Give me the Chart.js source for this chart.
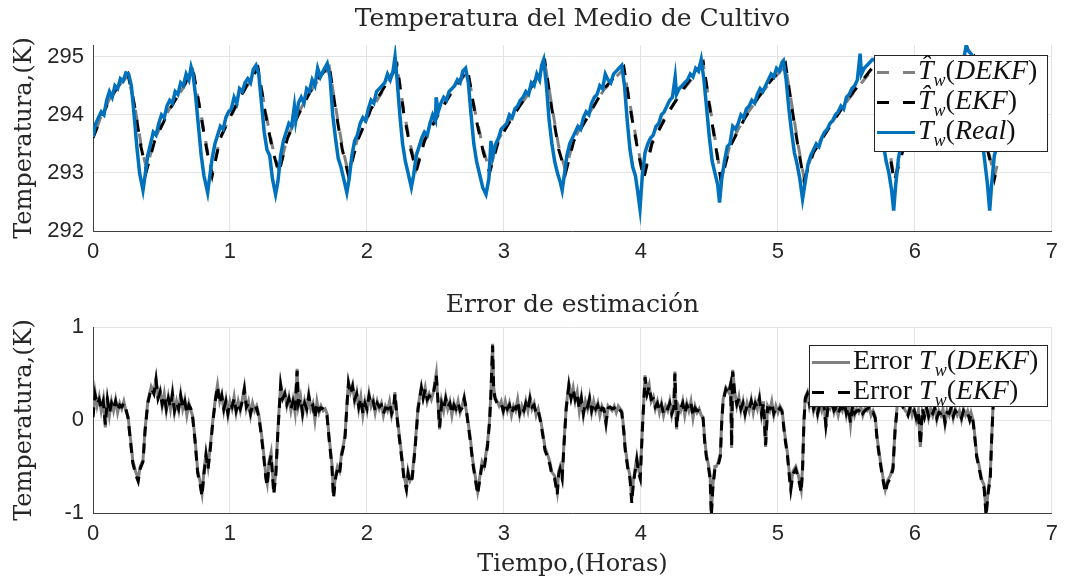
<!DOCTYPE html>
<html lang="es">
<head>
  <meta charset="UTF-8">
  <title>Temperatura del Medio de Cultivo</title>
  <script src="https://cdn.jsdelivr.net/npm/chart.js"></script>
  <style>
    body {
      margin: 0;
      background: #fff;
      width: 1066px;
      height: 584px;
      position: relative;
      overflow: hidden;
    }
    .panel {
      position: absolute;
      left: 0;
      width: 1066px;
    }
    #topPanel { top: 0; height: 262px; }
    #botPanel { top: 280px; height: 304px; }
    .legend {
      position: absolute;
      background: #fff;
      border: 1px solid #262626;
      font-family: "Liberation Serif", serif;
      font-size: 28px;
      color: #111;
      padding: 1px 0 0 2px;
      box-sizing: border-box;
    }
    .legend .row {
      height: 30px;
      display: flex;
      align-items: center;
      white-space: nowrap;
    }
    .sample {
      display: inline-block;
      width: 38px;
      height: 3px;
      margin-right: 3px;
      flex: none;
    }
    .dash-gray { background: repeating-linear-gradient(to right, #808080 0 12px, transparent 12px 26px); }
    .dash-black { background: repeating-linear-gradient(to right, #000 0 12px, transparent 12px 26px); }
    .solid-blue { background: #0072bd; }
    .solid-gray { background: #808080; }
    .legend i { font-style: italic; }
    .legend sub { font-size: 18px; font-style: italic; position: relative; top: 1px; }
  </style>
</head>
<body>
  <div class="panel" id="topPanel"><canvas id="tempChart"></canvas></div>
  <div class="panel" id="botPanel"><canvas id="errChart"></canvas></div>

  <div class="legend" style="left:874px; top:55px; width:174px; height:97px;">
    <div class="row"><span class="sample dash-gray"></span><span><i>T&#770;</i><sub>w</sub>(<i>DEKF</i>)</span></div>
    <div class="row"><span class="sample dash-black"></span><span><i>T&#770;</i><sub>w</sub>(<i>EKF</i>)</span></div>
    <div class="row"><span class="sample solid-blue"></span><span><i>T</i><sub>w</sub>(<i>Real</i>)</span></div>
  </div>
  <div class="legend" style="left:809px; top:345px; width:239px; height:62px;">
    <div class="row"><span class="sample solid-gray"></span><span>Error <i>T</i><sub>w</sub>(<i>DEKF</i>)</span></div>
    <div class="row"><span class="sample dash-black"></span><span>Error <i>T</i><sub>w</sub>(<i>EKF</i>)</span></div>
  </div>

  <script>
    // ---- measured temperature (hours, K) ----
    const timeReal = [
      0, 0.02, 0.04, 0.06, 0.08, 0.10, 0.12, 0.14, 0.16, 0.18, 0.20, 0.22, 0.24, 0.26, 0.28, 0.30, 0.32, 0.34, 0.365,
      0.38, 0.40, 0.42, 0.44, 0.46, 0.48, 0.50, 0.52, 0.54, 0.56, 0.58, 0.60, 0.62, 0.64, 0.66, 0.68, 0.70, 0.716, 0.73, 0.75, 0.77, 0.79, 0.81, 0.837,
      0.85, 0.87, 0.89, 0.91, 0.93, 0.95, 0.97, 0.99, 1.01, 1.03, 1.05, 1.07, 1.09, 1.11, 1.13, 1.15, 1.17, 1.19, 1.21, 1.23, 1.25, 1.27, 1.29, 1.31, 1.333,
      1.35, 1.37, 1.39, 1.41, 1.43, 1.45, 1.47, 1.48, 1.50, 1.52, 1.54, 1.56, 1.58, 1.60, 1.62, 1.64, 1.66, 1.68, 1.71, 1.73, 1.75, 1.77, 1.79, 1.81, 1.83, 1.853,
      1.87, 1.89, 1.91, 1.93, 1.95, 1.97, 1.99, 2.01, 2.03, 2.05, 2.07, 2.09, 2.11, 2.13, 2.15, 2.17, 2.19, 2.205, 2.22, 2.24, 2.26, 2.28, 2.30, 2.324,
      2.34, 2.36, 2.38, 2.40, 2.42, 2.44, 2.46, 2.48, 2.50, 2.505, 2.52, 2.54, 2.56, 2.58, 2.60, 2.62, 2.64, 2.66, 2.68, 2.70, 2.72, 2.74, 2.76, 2.78, 2.80, 2.82, 2.845, 2.869,
      2.89, 2.905, 2.92, 2.94, 2.96, 2.98, 3.00, 3.02, 3.04, 3.06, 3.08, 3.10, 3.12, 3.14, 3.16, 3.18, 3.20, 3.22, 3.24, 3.26, 3.275, 3.29, 3.31, 3.33, 3.35, 3.37, 3.39, 3.41, 3.425,
      3.44, 3.46, 3.48, 3.50, 3.52, 3.54, 3.56, 3.58, 3.60, 3.62, 3.64, 3.66, 3.68, 3.70, 3.72, 3.74, 3.76, 3.78, 3.80, 3.82, 3.84, 3.86, 3.88, 3.90, 3.92, 3.94, 3.96, 3.975, 3.993,
      4.01, 4.03, 4.05, 4.07, 4.09, 4.11, 4.13, 4.15, 4.17, 4.19, 4.21, 4.23, 4.25, 4.26, 4.28, 4.30, 4.32, 4.34, 4.36, 4.38, 4.40, 4.42, 4.44, 4.46, 4.48, 4.50, 4.52, 4.54, 4.56, 4.574,
      4.59, 4.61, 4.63, 4.65, 4.67, 4.69, 4.71, 4.73, 4.75, 4.77, 4.79, 4.81, 4.83, 4.85, 4.87, 4.89, 4.91, 4.93, 4.95, 4.97, 4.99, 5.01, 5.03, 5.04, 5.06, 5.08, 5.10, 5.12, 5.14, 5.16, 5.18,
      5.20, 5.22, 5.24, 5.26, 5.28, 5.30, 5.32, 5.34, 5.36, 5.38, 5.40, 5.42, 5.44, 5.46, 5.48, 5.50, 5.52, 5.54, 5.56, 5.58, 5.60, 5.61, 5.63, 5.65, 5.67, 5.69, 5.71, 5.73, 5.75, 5.77, 5.79, 5.81, 5.83, 5.845,
      5.86, 5.88, 5.90, 5.92, 5.94, 5.96, 5.98, 6.00, 6.02, 6.04, 6.06, 6.08, 6.10, 6.12, 6.14, 6.16, 6.18, 6.20, 6.22, 6.24, 6.26, 6.28, 6.30, 6.32, 6.34, 6.36, 6.375, 6.39, 6.41, 6.43, 6.45, 6.47, 6.49, 6.51, 6.53, 6.546, 6.56, 6.58, 6.60
    ];
    const tempReal = [
      293.62, 293.85, 293.95, 294.05, 294.0, 294.25, 294.4, 294.3, 294.5, 294.45, 294.62, 294.58, 294.72, 294.7, 294.5, 294.0, 293.45, 293.0, 292.7,
      292.95, 293.3, 293.5, 293.7, 293.65, 293.85, 294.0, 293.95, 294.15, 294.25, 294.2, 294.4, 294.35, 294.55, 294.5, 294.7, 294.6, 294.82, 294.7, 294.3, 293.8, 293.3, 292.95, 292.66,
      292.9, 293.25, 293.5, 293.65, 293.8, 293.75, 293.95, 294.05, 294.1, 294.3, 294.2, 294.45, 294.4, 294.55, 294.62, 294.55, 294.78, 294.85, 294.7, 294.2, 293.7, 293.4, 293.3, 292.9, 292.63,
      292.85, 293.3, 293.55, 293.7, 293.85, 293.8, 294.15, 293.9, 294.2, 294.3, 294.2, 294.45, 294.4, 294.6, 294.5, 294.8, 294.65, 294.75, 294.88, 294.65, 294.0, 293.6, 293.25, 293.1, 292.9, 292.66,
      292.9, 293.3, 293.55, 293.65, 293.85, 293.95, 293.9, 294.1, 294.25, 294.2, 294.4, 294.45, 294.5, 294.55, 294.7, 294.6, 294.75, 295.0, 294.6, 294.0, 293.5, 293.2, 293.0, 292.75,
      292.95, 293.3, 293.45, 293.6, 293.7, 293.65, 293.85, 294.0, 293.9, 294.3, 294.05, 294.2, 294.3, 294.25, 294.4, 294.45, 294.5, 294.6, 294.55, 294.75, 294.8, 294.55, 294.0, 293.5, 293.2, 293.0, 292.75, 292.63,
      292.9, 293.55, 293.3, 293.5, 293.6, 293.75, 293.8, 293.85, 294.0, 293.95, 294.1, 294.15, 294.25, 294.3, 294.4, 294.35, 294.55, 294.5, 294.7, 294.6, 294.85, 294.95, 294.5, 293.9, 293.5, 293.2, 293.0, 292.85, 292.7,
      292.95, 293.3, 293.5, 293.6, 293.7, 293.8, 293.75, 293.95, 294.05, 294.0, 294.2, 294.3, 294.35, 294.5, 294.45, 294.7, 294.6, 294.55, 294.7, 294.75, 294.8, 294.85, 294.5, 293.9, 293.4, 293.1, 292.95, 292.7, 292.38,
      292.95, 293.35, 293.5, 293.6, 293.65, 293.8, 293.85, 294.0, 294.05, 294.15, 294.25, 294.3, 294.65, 294.35, 294.45, 294.5, 294.55, 294.6, 294.7, 294.65, 294.8, 294.75, 294.95, 294.6, 294.1, 293.6, 293.2, 293.0, 292.8, 292.49,
      292.9, 293.2, 293.45, 293.5, 293.8, 293.75, 293.85, 294.0, 293.95, 294.1, 294.15, 294.25, 294.2, 294.35, 294.45, 294.4, 294.5, 294.6, 294.7, 294.65, 294.8, 294.75, 294.9, 294.93, 294.6, 294.1, 293.7, 293.35, 293.15, 292.9, 292.55,
      292.85, 293.15, 293.3, 293.4, 293.5, 293.45, 293.6, 293.7, 293.75, 293.85, 293.9, 294.0, 294.05, 294.15, 294.1, 294.3, 294.35, 294.45, 294.5, 294.6, 295.05, 294.7, 294.8, 294.85, 294.9, 294.95, 294.95, 294.6, 294.0, 293.5, 293.2, 293.0, 292.7, 292.35,
      292.8, 293.25, 293.5, 293.6, 293.7, 293.8, 293.85, 293.95, 294.0, 293.85, 294.1, 294.2, 294.25, 294.3, 294.4, 294.45, 294.5, 294.55, 294.6, 294.7, 294.75, 294.8, 294.85, 294.9, 294.95, 295.0, 295.2, 295.1, 295.05, 294.95, 294.5, 294.0, 293.6, 293.2, 292.8, 292.35, 292.8, 293.3, 293.45
    ];

    // ---- filter estimates (hours, K) ----
    const timeEst = [
      0, 0.05, 0.12, 0.20, 0.255, 0.30, 0.35, 0.39,
      0.45, 0.55, 0.65, 0.73, 0.78, 0.83, 0.87,
      0.93, 1.03, 1.12, 1.205, 1.26, 1.31, 1.357,
      1.42, 1.52, 1.62, 1.725, 1.77, 1.82, 1.865,
      1.93, 2.03, 2.12, 2.22, 2.27, 2.32, 2.36,
      2.42, 2.52, 2.62, 2.735, 2.79, 2.85, 2.895,
      2.96, 3.06, 3.17, 3.30, 3.35, 3.40, 3.45,
      3.51, 3.62, 3.73, 3.875, 3.93, 3.98, 4.02,
      4.08, 4.19, 4.31, 4.455, 4.51, 4.55, 4.585,
      4.65, 4.76, 4.90, 5.055, 5.11, 5.15, 5.19,
      5.26, 5.38, 5.52, 5.72, 5.77, 5.81, 5.85,
      5.92, 6.05, 6.22, 6.43, 6.48, 6.53, 6.58,
      6.60
    ];
    const tempDEKF = [
      293.58, 293.92, 294.27, 294.53, 294.67, 294.22, 293.5, 293.07,
      293.58, 294.07, 294.43, 294.75, 294.12, 293.45, 292.99,
      293.62, 294.08, 294.48, 294.77, 294.05, 293.45, 293.04,
      293.62, 294.12, 294.52, 294.82, 294.15, 293.45, 292.99,
      293.58, 294.08, 294.43, 294.82, 294.05, 293.45, 293.07,
      293.58, 294.02, 294.38, 294.75, 294.05, 293.4, 293.04,
      293.58, 293.97, 294.33, 294.87, 294.15, 293.45, 293.04,
      293.58, 294.02, 294.43, 294.79, 294.05, 293.4, 292.95,
      293.53, 294.02, 294.43, 294.87, 294.05, 293.45, 292.9,
      293.48, 293.97, 294.43, 294.85, 294.05, 293.45, 292.92,
      293.38, 293.82, 294.28, 294.87, 294.1, 293.45, 292.9,
      293.48, 293.97, 294.48, 294.97, 294.15, 293.45, 292.94,
      293.12
    ];
    const tempEKF = [
      293.6, 293.9, 294.25, 294.55, 294.7, 294.2, 293.45, 293.03,
      293.55, 294.05, 294.45, 294.78, 294.1, 293.4, 292.95,
      293.6, 294.1, 294.5, 294.8, 294.0, 293.4, 293.0,
      293.6, 294.1, 294.55, 294.85, 294.1, 293.4, 292.95,
      293.55, 294.1, 294.45, 294.85, 294.0, 293.4, 293.03,
      293.55, 294.0, 294.4, 294.78, 294.0, 293.35, 293.0,
      293.55, 293.95, 294.35, 294.9, 294.1, 293.4, 293.0,
      293.55, 294.0, 294.45, 294.82, 294.0, 293.35, 292.9,
      293.5, 294.0, 294.45, 294.9, 294.0, 293.4, 292.85,
      293.45, 293.95, 294.45, 294.88, 294.0, 293.4, 292.87,
      293.35, 293.8, 294.3, 294.9, 294.05, 293.4, 292.85,
      293.45, 293.95, 294.5, 295.0, 294.1, 293.4, 292.89,
      293.1
    ];

    // ---- estimation error (hours, K) ----
    const timeErr = [
      0, 0.015, 0.03, 0.045, 0.06, 0.075, 0.09, 0.105, 0.12, 0.135, 0.15, 0.165, 0.18, 0.195, 0.21, 0.225, 0.24, 0.256,
      0.27, 0.29, 0.31, 0.33, 0.345, 0.365, 0.38, 0.40, 0.425, 0.445, 0.46, 0.475,
      0.49, 0.505, 0.52, 0.535, 0.55, 0.565, 0.58, 0.595, 0.61, 0.625, 0.64, 0.655, 0.67, 0.685, 0.70, 0.715, 0.728,
      0.745, 0.764, 0.78, 0.796, 0.81, 0.825, 0.84, 0.855, 0.875, 0.895, 0.909, 0.925,
      0.94, 0.955, 0.97, 0.985, 1.0, 1.015, 1.03, 1.045, 1.06, 1.075, 1.09, 1.105, 1.12, 1.135, 1.15, 1.165, 1.18, 1.195, 1.212,
      1.23, 1.248, 1.262, 1.272, 1.285, 1.30, 1.32, 1.335, 1.35, 1.37, 1.385,
      1.40, 1.415, 1.43, 1.445, 1.46, 1.475, 1.49, 1.50, 1.515, 1.53, 1.545, 1.56, 1.575, 1.59, 1.605, 1.62, 1.635, 1.65, 1.665, 1.68, 1.695, 1.708,
      1.725, 1.744, 1.756, 1.77, 1.785, 1.80, 1.815, 1.83, 1.84, 1.855, 1.865, 1.88,
      1.895, 1.91, 1.925, 1.94, 1.955, 1.97, 1.985, 2.0, 2.015, 2.03, 2.045, 2.06, 2.075, 2.09, 2.105, 2.12, 2.135, 2.15, 2.165, 2.18, 2.195, 2.204, 2.22,
      2.235, 2.252, 2.27, 2.288, 2.30, 2.315, 2.33, 2.35, 2.373, 2.397, 2.41,
      2.425, 2.44, 2.455, 2.47, 2.485, 2.506, 2.52, 2.53, 2.545, 2.56, 2.575, 2.59, 2.605, 2.62, 2.635, 2.65, 2.665, 2.68, 2.695, 2.71, 2.725, 2.736,
      2.755, 2.772, 2.79, 2.808, 2.825, 2.84, 2.855, 2.87, 2.88, 2.895, 2.905, 2.917, 2.925, 2.935,
      2.95, 2.965, 2.98, 2.995, 3.01, 3.025, 3.04, 3.055, 3.07, 3.085, 3.10, 3.115, 3.13, 3.145, 3.16, 3.175, 3.19, 3.205, 3.22, 3.235, 3.25, 3.268,
      3.285, 3.30, 3.316, 3.335, 3.35, 3.37, 3.389, 3.40, 3.41, 3.425, 3.44, 3.455, 3.474, 3.49,
      3.505, 3.52, 3.535, 3.55, 3.565, 3.58, 3.595, 3.61, 3.625, 3.64, 3.655, 3.67, 3.685, 3.70, 3.715, 3.73, 3.745, 3.76, 3.775, 3.79, 3.805, 3.82, 3.835, 3.86,
      3.875, 3.885, 3.905, 3.92, 3.933, 3.945, 3.96, 3.97, 3.985, 3.995, 4.01, 4.03, 4.045,
      4.06, 4.075, 4.09, 4.105, 4.12, 4.135, 4.15, 4.165, 4.18, 4.195, 4.21, 4.225, 4.24, 4.248, 4.26, 4.275, 4.29, 4.305, 4.32, 4.335, 4.35, 4.365, 4.38, 4.395, 4.41, 4.425, 4.44, 4.454,
      4.465, 4.477, 4.495, 4.505, 4.514, 4.525, 4.54, 4.55, 4.565, 4.58, 4.59, 4.60, 4.62, 4.64, 4.655, 4.662, 4.67, 4.685,
      4.70, 4.715, 4.73, 4.745, 4.76, 4.775, 4.79, 4.805, 4.82, 4.835, 4.85, 4.865, 4.88, 4.895, 4.91, 4.925, 4.94, 4.955, 4.97, 4.985, 5.0, 5.015, 5.03,
      5.05, 5.07, 5.085, 5.094, 5.11, 5.13, 5.15, 5.17, 5.18, 5.19, 5.20, 5.215,
      5.23, 5.245, 5.26, 5.275, 5.29, 5.305, 5.32, 5.335, 5.35, 5.365, 5.38, 5.395, 5.41, 5.425, 5.44, 5.455, 5.47, 5.485, 5.50, 5.515, 5.53, 5.545, 5.56, 5.575, 5.59, 5.605, 5.62, 5.635, 5.65, 5.665, 5.68, 5.695, 5.71,
      5.725, 5.747, 5.765, 5.784, 5.80, 5.82, 5.84, 5.855, 5.87, 5.885, 5.90,
      5.915, 5.93, 5.95, 5.965, 5.98, 5.995, 6.01, 6.025, 6.04, 6.055, 6.07, 6.085, 6.10, 6.115, 6.13, 6.145, 6.16, 6.175, 6.19, 6.205, 6.22, 6.235, 6.25, 6.265, 6.28, 6.295, 6.31, 6.325, 6.34, 6.355, 6.37, 6.385, 6.40, 6.41, 6.425,
      6.44, 6.45, 6.47, 6.49, 6.505, 6.52, 6.535, 6.55, 6.56, 6.57, 6.575
    ];
    const errDEKF = [
      0.05, 0.3, 0.15, 0.25, 0.1, 0.22, -0.08, 0.25, 0.05, 0.2, 0.1, 0.22, 0.08, 0.18, 0.12, 0.2, 0.1, 0.04,
      -0.15, -0.43, -0.55, -0.63, -0.5, -0.43, -0.1, 0.2, 0.36, 0.3, 0.45, 0.25,
      0.32, 0.15, 0.28, 0.1, 0.25, 0.12, 0.3, 0.08, 0.2, 0.1, 0.28, 0.12, 0.22, 0.05, 0.18, 0.1, 0.04,
      -0.2, -0.54, -0.65, -0.79, -0.55, -0.35, -0.5, -0.3, 0.0, 0.25, 0.38, 0.2,
      0.28, 0.1, 0.22, 0.05, 0.2, 0.12, 0.25, 0.08, 0.2, 0.1, 0.22, 0.35, 0.12, 0.2, 0.05, 0.18, 0.1, 0.15, 0.04,
      -0.15, -0.39, -0.6, -0.68, -0.45, -0.35, -0.77, -0.55, -0.1, 0.39, 0.25,
      0.3, 0.15, 0.25, 0.1, 0.22, 0.08, 0.55, 0.15, 0.25, 0.05, 0.2, 0.1, 0.28, 0.12, 0.18, 0.0, 0.2, 0.08, 0.15, 0.1, 0.12, 0.07,
      -0.2, -0.47, -0.81, -0.6, -0.5, -0.55, -0.35, -0.25, -0.16, 0.2, 0.41, 0.3,
      0.38, 0.2, 0.3, 0.12, 0.25, 0.05, 0.2, 0.1, 0.28, 0.15, 0.22, 0.08, 0.2, 0.12, 0.18, 0.05, 0.15, 0.1, 0.2, 0.05, 0.15, 0.3, 0.04,
      -0.15, -0.36, -0.6, -0.72, -0.55, -0.65, -0.6, -0.3, 0.14, 0.36, 0.25,
      0.35, 0.2, 0.28, 0.22, 0.3, 0.5, 0.15, -0.1, 0.2, 0.1, 0.25, 0.12, 0.2, 0.05, 0.18, 0.1, 0.2, 0.08, 0.15, 0.25, 0.1, 0.0,
      -0.2, -0.43, -0.6, -0.77, -0.6, -0.45, -0.5, -0.35, -0.25, 0.0, 0.3, 0.82, 0.35, 0.25,
      0.2, 0.15, 0.2, 0.08, 0.2, 0.1, 0.18, 0.05, 0.15, 0.1, 0.22, 0.05, 0.15, 0.08, 0.2, 0.1, 0.25, 0.12, 0.18, 0.05, 0.12, 0.0,
      -0.15, -0.3, -0.36, -0.45, -0.56, -0.6, -0.77, -0.55, -0.5, -0.6, -0.2, 0.15, 0.39, 0.25,
      0.35, 0.2, 0.3, 0.1, 0.25, 0.05, 0.2, 0.12, 0.25, 0.08, 0.2, 0.1, 0.18, 0.05, 0.15, 0.1, -0.05, 0.15, 0.12, 0.1, 0.15, 0.08, 0.15, 0.1,
      -0.1, -0.29, -0.5, -0.6, -0.86, -0.65, -0.5, -0.4, -0.55, -0.6, -0.1, 0.48, 0.3,
      0.38, 0.2, 0.25, 0.12, 0.2, 0.08, 0.18, 0.05, 0.15, 0.1, 0.2, 0.05, 0.15, 0.52, -0.1, 0.15, 0.1, 0.2, 0.05, 0.18, 0.1, 0.2, 0.02, 0.15, 0.08, 0.12, 0.05, 0.03,
      -0.2, -0.36, -0.5, -0.6, -1.0, -0.7, -0.5, -0.5, -0.45, -0.36, 0.0, 0.22, 0.35, 0.3, 0.4, -0.3, 0.54, 0.3,
      0.15, 0.25, 0.1, 0.2, 0.05, 0.18, 0.1, 0.22, 0.08, 0.2, 0.12, 0.25, 0.05, 0.2, -0.29, 0.15, 0.1, 0.2, 0.05, 0.15, 0.08, 0.15, 0.11,
      -0.15, -0.36, -0.6, -0.72, -0.55, -0.5, -0.6, -0.75, -0.5, 0.0, 0.25, 0.3,
      0.15, 0.25, 0.1, 0.2, 0.05, 0.18, 0.1, 0.2, -0.08, 0.15, 0.12, 0.2, 0.08, 0.15, 0.05, 0.15, 0.1, 0.2, 0.05, 0.15, -0.05, 0.18, 0.05, 0.12, 0.08, 0.15, 0.05, 0.12, 0.1, 0.15, 0.05, 0.1, 0.04,
      -0.2, -0.43, -0.6, -0.75, -0.65, -0.6, -0.5, -0.1, 0.14, 0.3, 0.2,
      0.15, 0.1, 0.07, 0.15, 0.05, 0.12, 0.0, 0.1, -0.29, 0.1, 0.05, 0.15, 0.02, 0.12, 0.05, 0.15, 0.0, 0.1, 0.05, 0.12, -0.05, 0.1, 0.05, 0.15, 0.02, 0.12, 0.05, 0.1, 0.0, 0.12, 0.05, 0.1, 0.02, 0.08, 0.0,
      -0.2, -0.36, -0.5, -0.65, -0.7, -1.0, -0.75, -0.6, -0.2, 0.14, 0.2
    ];
    const errEKF = [
      0.03, 0.27, 0.17, 0.22, 0.12, 0.2, -0.05, 0.22, 0.07, 0.18, 0.12, 0.2, 0.1, 0.16, 0.14, 0.18, 0.12, 0.02,
      -0.18, -0.46, -0.58, -0.66, -0.52, -0.45, -0.12, 0.18, 0.34, 0.28, 0.43, 0.23,
      0.3, 0.17, 0.26, 0.12, 0.23, 0.14, 0.28, 0.1, 0.18, 0.12, 0.26, 0.14, 0.2, 0.07, 0.16, 0.12, 0.02,
      -0.23, -0.57, -0.68, -0.82, -0.58, -0.38, -0.53, -0.33, -0.02, 0.23, 0.36, 0.18,
      0.26, 0.12, 0.2, 0.07, 0.18, 0.14, 0.23, 0.1, 0.18, 0.12, 0.2, 0.33, 0.14, 0.18, 0.07, 0.16, 0.12, 0.13, 0.02,
      -0.18, -0.42, -0.63, -0.71, -0.48, -0.38, -0.8, -0.58, -0.12, 0.37, 0.23,
      0.28, 0.17, 0.23, 0.12, 0.2, 0.1, 0.53, 0.17, 0.23, 0.07, 0.18, 0.12, 0.26, 0.14, 0.16, 0.02, 0.18, 0.1, 0.13, 0.12, 0.1, 0.05,
      -0.23, -0.5, -0.84, -0.63, -0.53, -0.58, -0.38, -0.28, -0.18, 0.18, 0.39, 0.28,
      0.36, 0.22, 0.28, 0.14, 0.23, 0.07, 0.18, 0.12, 0.26, 0.17, 0.2, 0.1, 0.18, 0.14, 0.16, 0.07, 0.13, 0.12, 0.18, 0.07, 0.13, 0.28, 0.02,
      -0.18, -0.39, -0.63, -0.75, -0.58, -0.68, -0.63, -0.33, 0.12, 0.34, 0.23,
      0.33, 0.22, 0.26, 0.24, 0.28, 0.48, 0.17, -0.08, 0.18, 0.12, 0.23, 0.14, 0.18, 0.07, 0.16, 0.12, 0.18, 0.1, 0.13, 0.23, 0.12, -0.02,
      -0.23, -0.46, -0.63, -0.8, -0.63, -0.48, -0.53, -0.38, -0.28, -0.02, 0.28, 0.8, 0.33, 0.23,
      0.18, 0.17, 0.18, 0.1, 0.18, 0.12, 0.16, 0.07, 0.13, 0.12, 0.2, 0.07, 0.13, 0.1, 0.18, 0.12, 0.23, 0.14, 0.16, 0.07, 0.1, -0.02,
      -0.18, -0.33, -0.39, -0.48, -0.59, -0.63, -0.8, -0.58, -0.53, -0.63, -0.23, 0.13, 0.37, 0.23,
      0.33, 0.22, 0.28, 0.12, 0.23, 0.07, 0.18, 0.14, 0.23, 0.1, 0.18, 0.12, 0.16, 0.07, 0.13, 0.12, -0.03, 0.13, 0.14, 0.12, 0.13, 0.1, 0.13, 0.08,
      -0.13, -0.32, -0.53, -0.63, -0.89, -0.68, -0.53, -0.43, -0.58, -0.63, -0.12, 0.46, 0.28,
      0.36, 0.22, 0.23, 0.14, 0.18, 0.1, 0.16, 0.07, 0.13, 0.12, 0.18, 0.07, 0.13, 0.5, -0.08, 0.13, 0.12, 0.18, 0.07, 0.16, 0.12, 0.18, 0.04, 0.13, 0.1, 0.1, 0.07, 0.01,
      -0.23, -0.39, -0.53, -0.63, -1.03, -0.73, -0.53, -0.53, -0.48, -0.39, -0.02, 0.2, 0.33, 0.28, 0.38, -0.28, 0.52, 0.28,
      0.17, 0.23, 0.12, 0.18, 0.07, 0.16, 0.12, 0.2, 0.1, 0.18, 0.14, 0.23, 0.07, 0.18, -0.27, 0.13, 0.12, 0.18, 0.07, 0.13, 0.1, 0.13, 0.09,
      -0.18, -0.39, -0.63, -0.75, -0.58, -0.53, -0.63, -0.78, -0.53, -0.02, 0.23, 0.28,
      0.17, 0.23, 0.12, 0.18, 0.07, 0.16, 0.12, 0.18, -0.06, 0.13, 0.14, 0.18, 0.1, 0.13, 0.07, 0.13, 0.12, 0.18, 0.07, 0.13, -0.03, 0.16, 0.07, 0.1, 0.1, 0.13, 0.07, 0.1, 0.12, 0.13, 0.07, 0.08, 0.02,
      -0.23, -0.46, -0.63, -0.78, -0.68, -0.63, -0.53, -0.12, 0.12, 0.28, 0.18,
      0.13, 0.12, 0.05, 0.13, 0.07, 0.1, 0.02, 0.08, -0.27, 0.12, 0.03, 0.13, 0.04, 0.1, 0.07, 0.13, 0.02, 0.08, 0.07, 0.1, -0.03, 0.08, 0.07, 0.13, 0.04, 0.1, 0.07, 0.08, 0.02, 0.1, 0.07, 0.08, 0.0, 0.06, -0.02,
      -0.23, -0.39, -0.53, -0.68, -0.73, -1.03, -0.78, -0.63, -0.23, 0.12, 0.18
    ];

    const tickLabelsTemp = [292, 293, 294, 295];
    const tickLabelsErr = [-1, 0, 1];

    function points(xs, ys) {
      return xs.map((x, i) => ({ x: x, y: ys[i] }));
    }

    // draws the panel title centred over the plot area
    const panelTitle = {
      id: 'panelTitle',
      afterDraw(chart, args, opts) {
        const { ctx, chartArea } = chart;
        ctx.save();
        ctx.font = '25px "DejaVu Serif"';
        ctx.fillStyle = '#262626';
        ctx.textAlign = 'center';
        ctx.textBaseline = 'middle';
        ctx.fillText(opts.text, (chartArea.left + chartArea.right) / 2, opts.y);
        ctx.restore();
      }
    };

    const tickFont = { family: 'Liberation Sans', size: 22 };
    const labelFont = { family: 'DejaVu Serif', size: 24 };
    const gridColor = '#e4e4e4';
    const axisColor = '#404040';

    function makeOptions(cfg) {
      return {
        responsive: true,
        maintainAspectRatio: false,
        animation: false,
        layout: { padding: { top: cfg.padTop, right: 7, left: 0, bottom: 0 } },
        plugins: {
          legend: { display: false },
          tooltip: { enabled: false },
          panelTitle: { text: cfg.title, y: cfg.titleY }
        },
        elements: { point: { radius: 0 }, line: { tension: 0 } },
        scales: {
          x: {
            type: 'linear',
            min: 0,
            max: 7,
            ticks: { stepSize: 1, font: tickFont, color: '#262626', padding: 8, maxRotation: 0 },
            grid: { color: gridColor, drawTicks: false },
            border: { color: axisColor, width: 1 },
            title: cfg.xTitle
              ? { display: true, text: cfg.xTitle, font: labelFont, color: '#262626', padding: { top: 0, bottom: 5 } }
              : { display: false },
            afterFit(scale) { scale.height = cfg.xHeight; }
          },
          y: {
            min: cfg.yMin,
            max: cfg.yMax,
            afterBuildTicks(scale) { scale.ticks = cfg.yTicks.map(v => ({ value: v })); },
            ticks: { font: tickFont, color: '#262626', padding: 9 },
            grid: { color: gridColor, drawTicks: false },
            border: { color: axisColor, width: 1 },
            title: { display: true, text: 'Temperatura,(K)', font: labelFont, color: '#262626', padding: { top: 10, bottom: 0 } },
            afterFit(scale) { scale.width = 93; }
          }
        }
      };
    }

    new Chart(document.getElementById('tempChart'), {
      type: 'line',
      data: {
        datasets: [
          {
            label: 'Tw(Real)',
            data: points(timeReal, tempReal),
            borderColor: '#0072bd',
            borderWidth: 3.5,
            order: 0
          },
          {
            label: 'T^w(EKF)',
            data: points(timeEst, tempEKF),
            borderColor: '#000000',
            borderWidth: 3,
            borderDash: [12, 12],
            order: 1
          },
          {
            label: 'T^w(DEKF)',
            data: points(timeEst, tempDEKF),
            borderColor: '#808080',
            borderWidth: 3,
            borderDash: [12, 12],
            borderDashOffset: 12,
            order: 2
          }
        ]
      },
      options: makeOptions({
        padTop: 45, xHeight: 31, yMin: 292, yMax: 295.2, yTicks: tickLabelsTemp,
        title: 'Temperatura del Medio de Cultivo', titleY: 19
      }),
      plugins: [panelTitle]
    });

    new Chart(document.getElementById('errChart'), {
      type: 'line',
      data: {
        datasets: [
          {
            label: 'Error Tw(EKF)',
            data: points(timeErr, errEKF),
            borderColor: '#000000',
            borderWidth: 3,
            borderDash: [10, 7],
            order: 0
          },
          {
            label: 'Error Tw(DEKF)',
            data: points(timeErr, errDEKF),
            borderColor: '#808080',
            borderWidth: 3,
            order: 1
          }
        ]
      },
      options: makeOptions({
        padTop: 47, xHeight: 71, yMin: -1, yMax: 1, yTicks: tickLabelsErr,
        title: 'Error de estimación', titleY: 25, xTitle: 'Tiempo,(Horas)'
      }),
      plugins: [panelTitle]
    });
  </script>
</body>
</html>
